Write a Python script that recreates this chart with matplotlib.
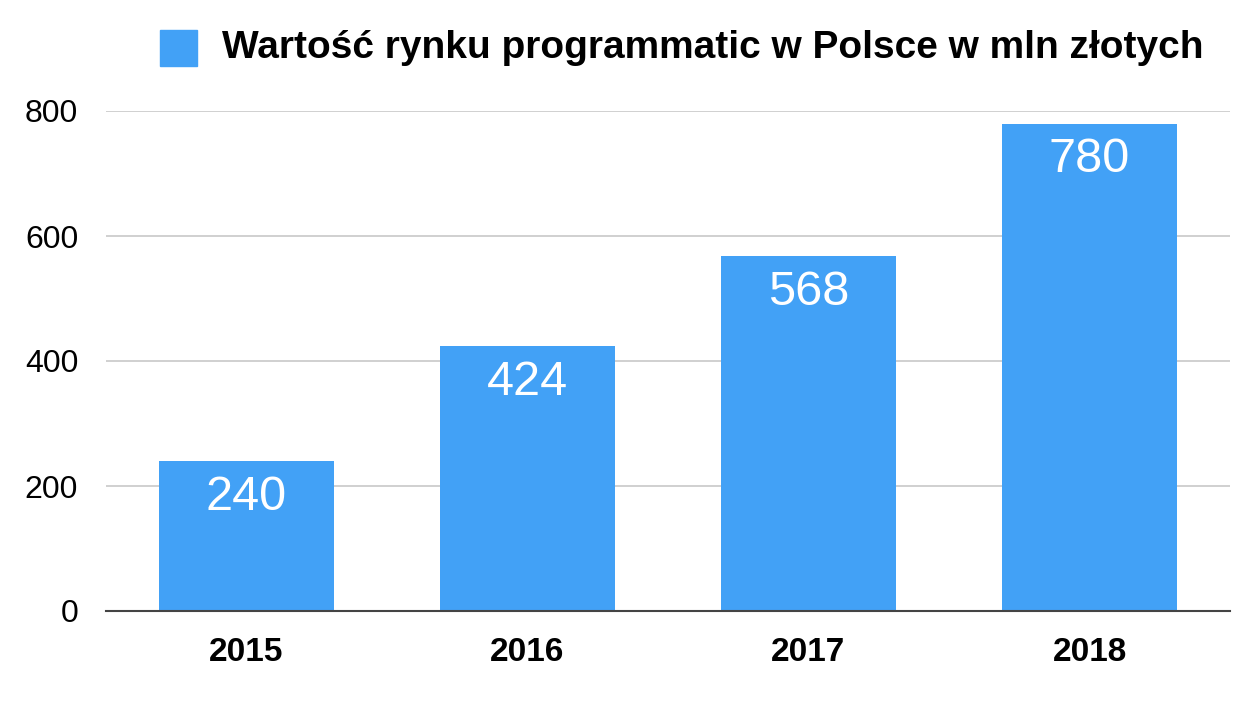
import matplotlib
matplotlib.use("Agg")
import matplotlib.pyplot as plt
from matplotlib.patches import Rectangle

years = ["2015", "2016", "2017", "2018"]
values = [240, 424, 568, 780]
series_name = "Wartość rynku programmatic w Polsce w mln złotych"
yticks = [0, 200, 400, 600, 800]

plt.rcParams['font.family'] = ['Liberation Sans', 'DejaVu Sans']

fig = plt.figure(figsize=(12.51, 7.11), dpi=100)
ax = fig.add_axes([106/1251, 1 - 611/711, (1230-106)/1251, 500/711])

color = '#42A1F6'
x = range(len(years))
ax.bar(x, values, width=0.624, color=color, zorder=2)
ax.set_xlim(-0.5, len(years) - 0.5)
ax.set_ylim(0, 800)
ax.set_yticks(yticks)
ax.set_yticklabels([str(v) for v in yticks], fontsize=23)
ax.set_xticks(list(x))
ax.set_xticklabels(years, fontsize=24, fontweight='bold')
ax.tick_params(axis='both', length=0)
ax.tick_params(axis='y', pad=20)
ax.tick_params(axis='x', pad=19)
ax.grid(axis='y', color='#c8c8c8', linewidth=1.2, zorder=0)
for s in ['top', 'right', 'left']:
    ax.spines[s].set_visible(False)
ax.spines['bottom'].set_color('#444444')
ax.spines['bottom'].set_linewidth(1.5)
ax.spines['bottom'].set_zorder(3)

for xi, v in zip(x, values):
    ax.annotate(str(v), (xi, v), xytext=(0, -26), textcoords='offset points',
                ha='center', va='center', color='white', fontsize=35)

# legend
fig.patches.append(Rectangle((160/1251, 1 - 66/711), 37/1251, 36/711,
                             transform=fig.transFigure, color=color))
fig.text(222/1251, 1 - 48/711, series_name, fontsize=28, fontweight='bold',
         va='center', ha='left')

fig.savefig("out.png", dpi=100)
